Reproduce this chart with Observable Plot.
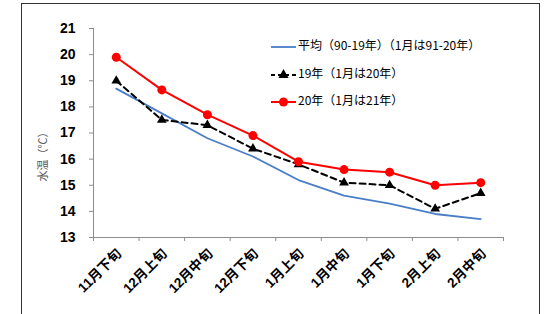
<!DOCTYPE html>
<html><head><meta charset="utf-8">
<script src="https://cdn.jsdelivr.net/npm/d3@7"></script>
<script src="https://cdn.jsdelivr.net/npm/@observablehq/plot@0.6"></script>
<style>
body{margin:0;background:#fff;}
#wrap{position:relative;width:544px;height:314px;overflow:hidden;}
#frame{position:absolute;left:21px;top:3px;width:519px;height:340px;border:1px solid #333;box-sizing:border-box;pointer-events:none;}
#chart{position:absolute;left:0;top:0;}
</style></head><body><div id="wrap"><div id="chart"></div><div id="frame"></div></div>
<script>
const categories = ["11月下旬","12月上旬","12月中旬","12月下旬","1月上旬","1月中旬","1月下旬","2月上旬","2月中旬"];
const avgValues = [18.7,17.75,16.8,16.1,15.2,14.6,14.3,13.9,13.7];
const values2019 = [19.0,17.5,17.3,16.4,15.8,15.1,15.0,14.1,14.7];
const values2020 = [19.9,18.65,17.7,16.9,15.9,15.6,15.5,15.0,15.1];
const yTicks = [13,14,15,16,17,18,19,20,21];
const seriesNames = ["平均（90-19年）（1月は91-20年）","19年（1月は20年）","20年（1月は21年）"];
const yLabel = "水温（℃）";

const blue = "#4A7EC8", red = "#FF0000", black = "#000000", axisGray = "#8C8C8C";
const font = "'Liberation Sans','Noto Sans CJK JP',sans-serif";

const idx = categories.map((d,i)=>i);
const boundaries = d3.range(0, categories.length + 1).map(i => i - 0.5);
const xMin = -0.5, xMax = categories.length - 0.5;
const yMin = yTicks[0], yMax = yTicks[yTicks.length-1];
const avg = idx.map(i=>({i, v: avgValues[i]}));
const s19 = idx.map(i=>({i, v: values2019[i]}));
const s20 = idx.map(i=>({i, v: values2020[i]}));

const chart = Plot.plot({
  width: 544, height: 314,
  marginLeft: 93, marginTop: 28, marginBottom: 77, marginRight: 41,
  style: {fontFamily: font, background: "transparent", overflow: "visible"},
  x: {type: "linear", domain: [xMin, xMax], axis: null},
  y: {type: "linear", domain: [yMin, yMax], axis: null},
  marks: [
    Plot.ruleY([yMin], {x1: xMin, x2: xMax, stroke: axisGray, strokeWidth: 1}),
    Plot.ruleX([xMin], {y1: yMin, y2: yMax, stroke: axisGray, strokeWidth: 1}),
    Plot.ruleX(boundaries, {x: d=>d, y1: yMin, y2: yMin, insetBottom: -4, stroke: axisGray}),
    Plot.ruleY(yTicks, {y: d=>d, x1: xMin, x2: xMin, insetLeft: -4, stroke: axisGray}),
    Plot.text(yTicks, {y: d=>d, x: xMin, text: d=>String(d), textAnchor: "end", dx: -18, fontSize: 14, fontWeight: "bold", fill: "#000"}),
    Plot.text(categories, {x: (d,i)=>i, y: yMin, text: d=>d, rotate: -45, textAnchor: "end", lineAnchor: "middle", dx: 3, dy: 14, fontSize: 13.5, fontWeight: "bold", fill: "#000"}),
    Plot.line(avg, {x: "i", y: "v", stroke: blue, strokeWidth: 1.8}),
    Plot.line(s19, {x: "i", y: "v", stroke: black, strokeWidth: 2, strokeDasharray: "6,4"}),
    Plot.dot(s19, {x: "i", y: "v", symbol: "triangle", r: 3.6, fill: black, stroke: "none"}),
    Plot.line(s20, {x: "i", y: "v", stroke: red, strokeWidth: 2}),
    Plot.dot(s20, {x: "i", y: "v", r: 4.5, fill: red, stroke: "none"})
  ]
});

const svg = d3.select(chart);

// y axis label
svg.append("text")
  .attr("transform", "translate(44,154) rotate(-90)")
  .attr("text-anchor", "middle")
  .attr("dominant-baseline", "middle")
  .attr("font-size", 11)
  .attr("fill", "#595959")
  .attr("font-family", "'Noto Sans CJK JP',sans-serif")
  .text(yLabel);

// legend
const lg = svg.append("g").attr("font-family", "'Noto Sans CJK JP',sans-serif").attr("font-size", 12).attr("fill", "#000").attr("text-anchor", "start");
const rows = [47, 75, 102];
const lx1 = 271, lx2 = 296, tx = 298;
lg.append("line").attr("x1", lx1).attr("x2", lx2).attr("y1", rows[0]).attr("y2", rows[0]).attr("stroke", blue).attr("stroke-width", 1.8);
lg.append("line").attr("x1", lx1).attr("x2", lx2).attr("y1", rows[1]).attr("y2", rows[1]).attr("stroke", black).attr("stroke-width", 2).attr("stroke-dasharray", "4,3");
lg.append("path").attr("d", d3.symbol(d3.symbolTriangle, 45)()).attr("transform", `translate(${(lx1+lx2)/2},${rows[1]})`).attr("fill", black);
lg.append("line").attr("x1", lx1).attr("x2", lx2).attr("y1", rows[2]).attr("y2", rows[2]).attr("stroke", red).attr("stroke-width", 2);
lg.append("circle").attr("cx", (lx1+lx2)/2).attr("cy", rows[2]).attr("r", 4.5).attr("fill", red);
seriesNames.forEach((n, k) => {
  lg.append("text").attr("x", tx).attr("y", rows[k]).attr("dominant-baseline", "middle").attr("text-anchor", "start").text(n);
});

document.getElementById("chart").appendChild(chart);
</script></body></html>
